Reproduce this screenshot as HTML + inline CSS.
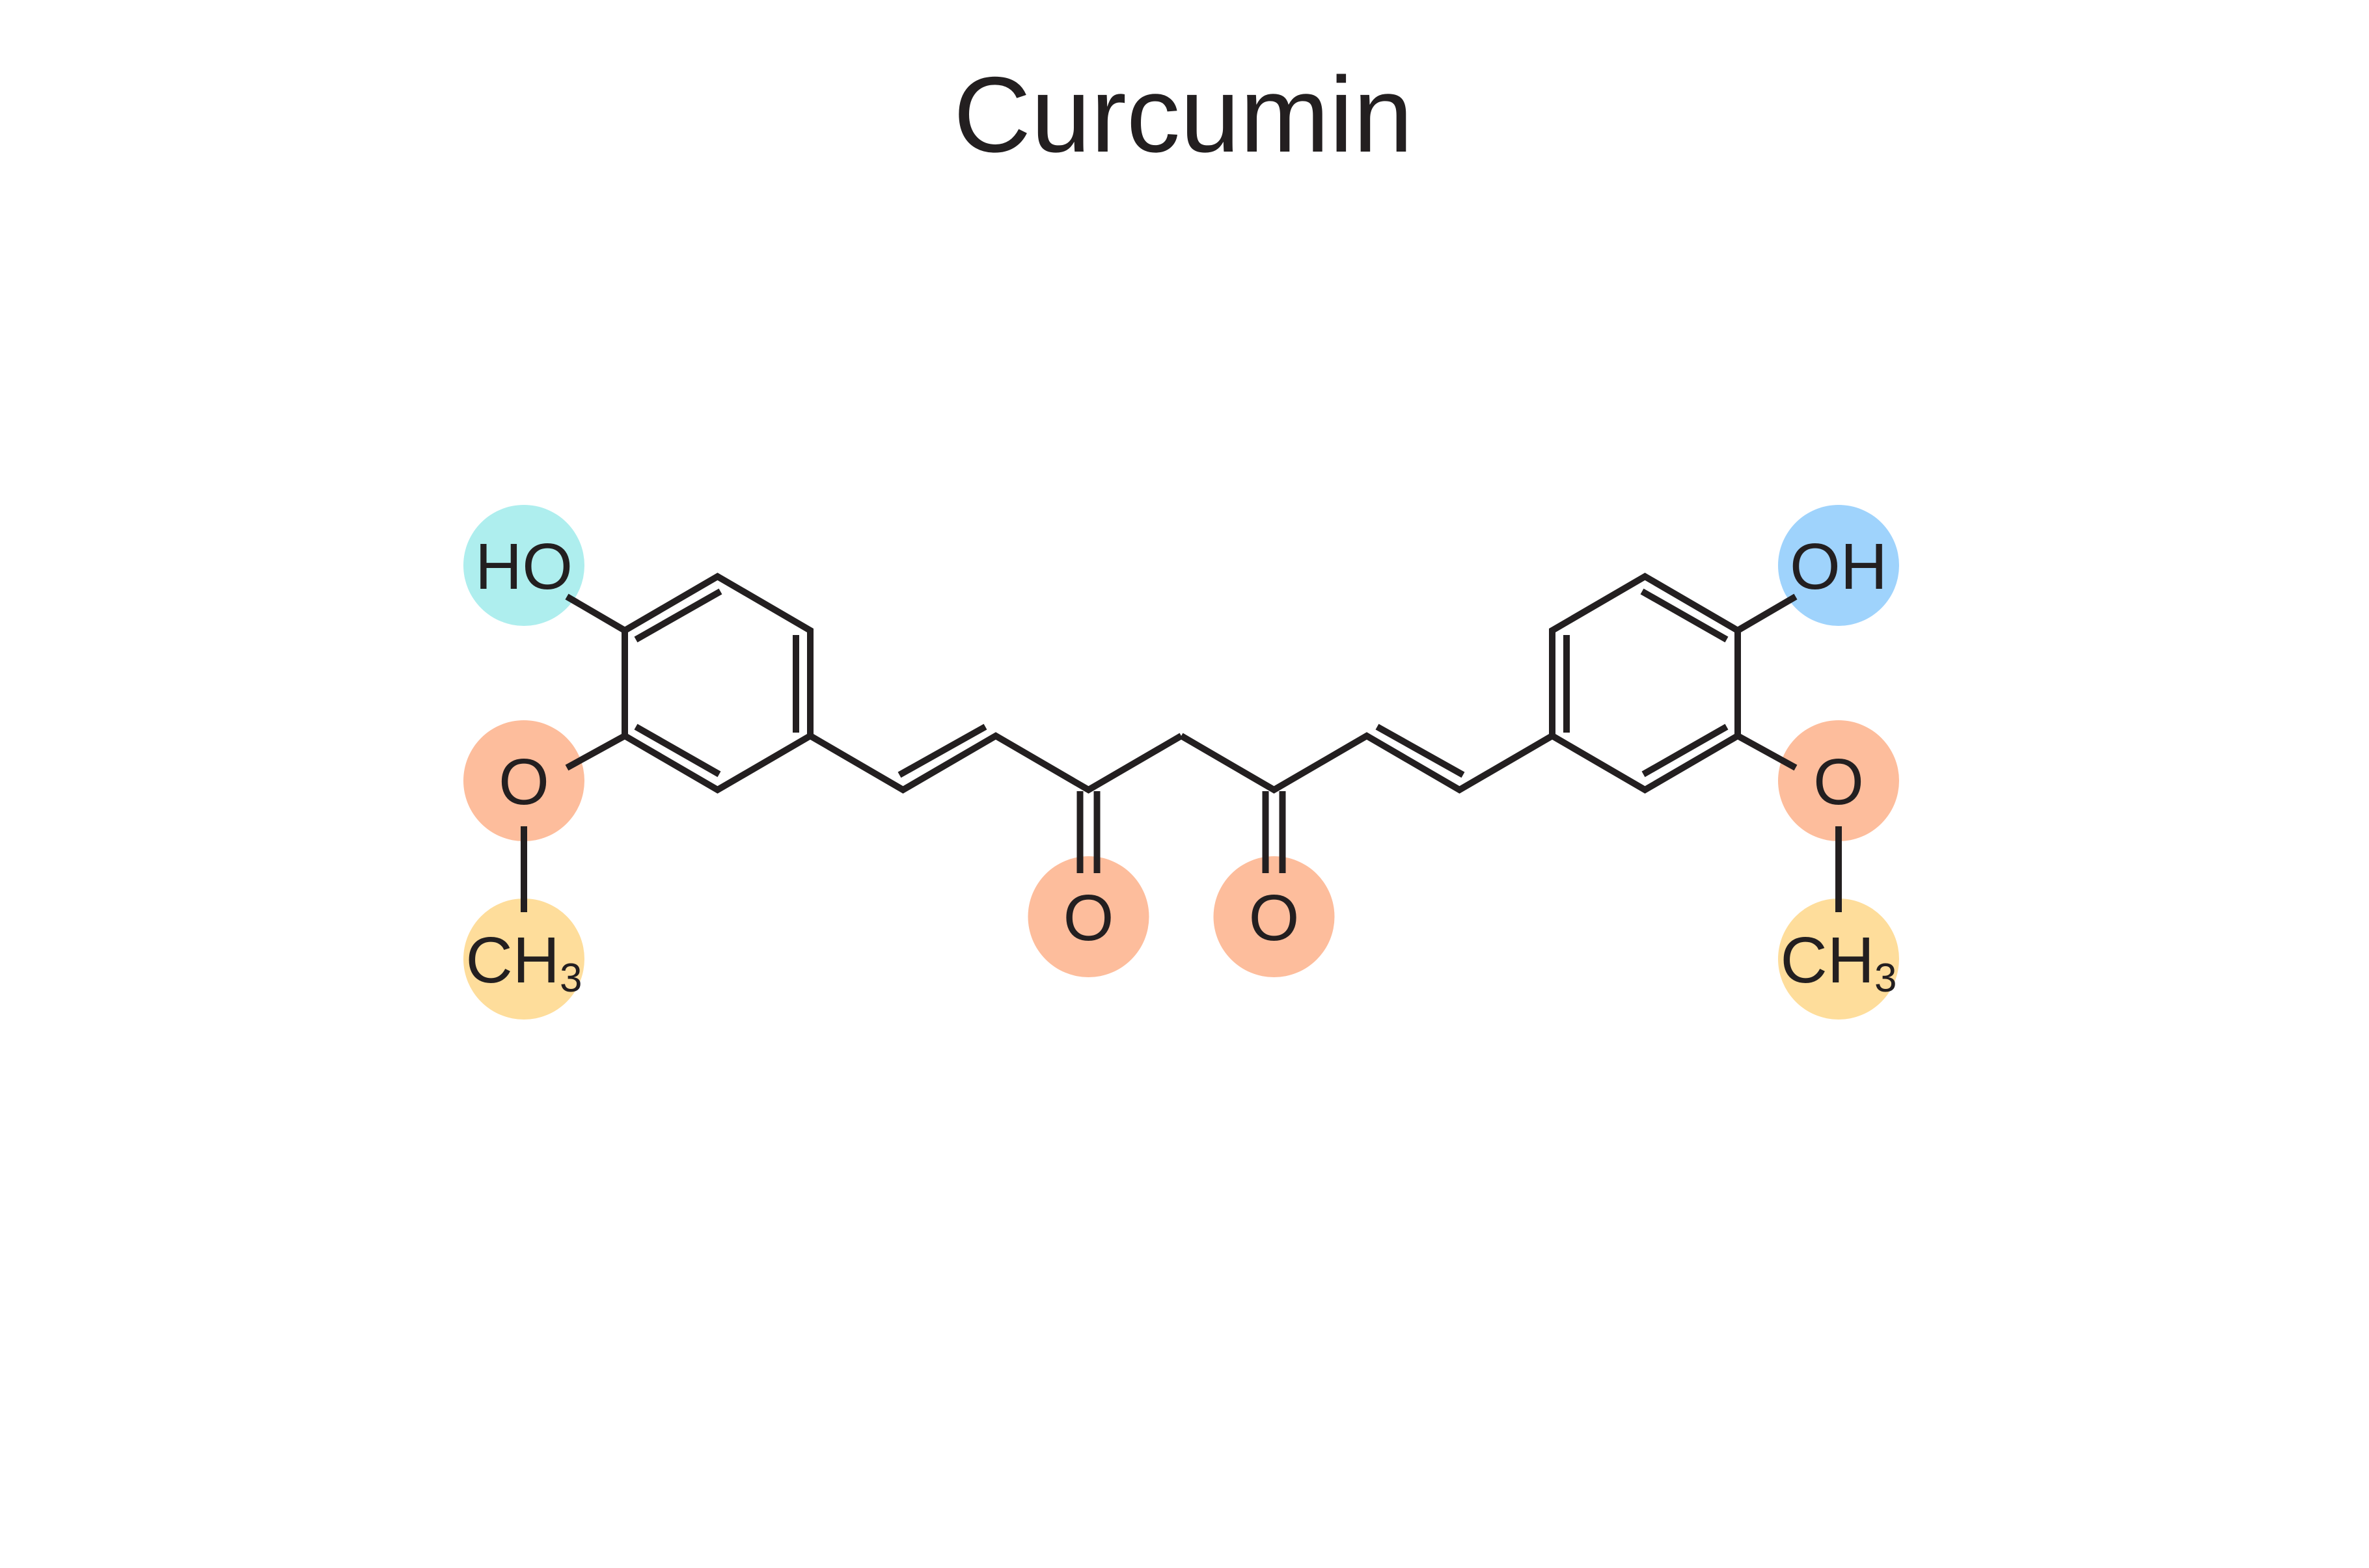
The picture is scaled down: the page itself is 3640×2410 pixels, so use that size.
<!DOCTYPE html>
<html><head><meta charset="utf-8"><style>
html,body{margin:0;padding:0;background:#fff;}
svg{display:block;}
text{font-family:"Liberation Sans","DejaVu Sans",sans-serif;fill:#231f20;}
</style></head><body>
<svg width="3640" height="2410" viewBox="0 0 3640 2410" xmlns="http://www.w3.org/2000/svg">
<rect width="3640" height="2410" fill="#fff"/>
<text x="1818" y="233" font-size="165" text-anchor="middle">Curcumin</text>
<defs>
<g id="half">
  <circle cx="805" cy="1200" r="93" fill="#fdbd9c"/>
  <circle cx="805" cy="1474" r="93" fill="#fedd9b"/>
  <circle cx="1672.5" cy="1409" r="93" fill="#fdbd9c"/>
  <g stroke="#231f20" stroke-width="10" fill="none" stroke-linejoin="miter">
    <polygon points="1245,1131 1245,969 1102.5,886 960,969 960,1131 1102.5,1214"/>
    <polyline points="1245,1131 1387.5,1214 1530,1131 1672.5,1214 1815,1131"/>
    <line x1="1659.5" y1="1216" x2="1659.5" y2="1342"/>
    <line x1="1685.5" y1="1216" x2="1685.5" y2="1342"/>
    <line x1="1382" y1="1191" x2="1514" y2="1117"/>
    <line x1="977" y1="983" x2="1107" y2="909"/>
    <line x1="977" y1="1117" x2="1105" y2="1190"/>
    <line x1="1223" y1="976" x2="1223" y2="1126"/>
    <line x1="960" y1="969" x2="871" y2="917"/>
    <line x1="960" y1="1131" x2="871" y2="1180"/>
    <line x1="805" y1="1270" x2="805" y2="1402"/>
  </g>
</g>
</defs>
<circle cx="805" cy="869" r="93" fill="#aeeeee"/>
<circle cx="2825" cy="869" r="93" fill="#9fd3fc"/>
<use href="#half"/>
<use href="#half" transform="translate(3630,0) scale(-1,1)"/>
<g font-size="100" text-anchor="middle">
  <text x="805" y="905">HO</text>
  <text x="805" y="1236">O</text>
  <text x="805" y="1510">CH<tspan font-size="62" dy="14">3</tspan></text>
  <text x="1672.5" y="1445">O</text>
  <text x="1957.5" y="1445">O</text>
  <text x="2825" y="905">OH</text>
  <text x="2825" y="1236">O</text>
  <text x="2825" y="1510">CH<tspan font-size="62" dy="14">3</tspan></text>
</g>
</svg>
</body></html>
